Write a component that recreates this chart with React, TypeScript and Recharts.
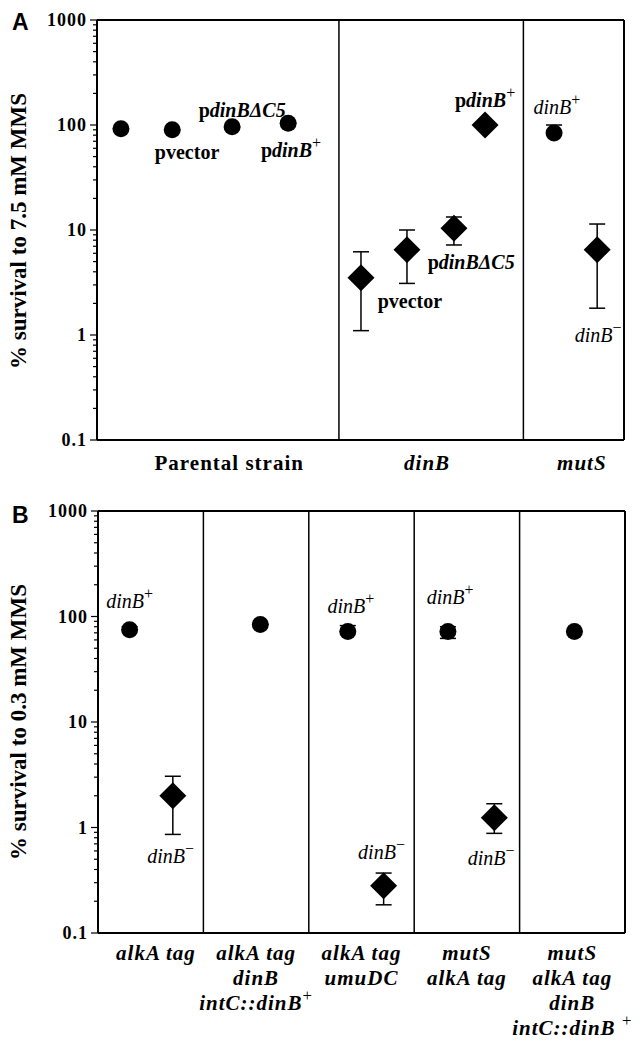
import React from 'react';
import { ScatterChart, Scatter, XAxis, YAxis, ErrorBar, ReferenceLine } from 'recharts';

const SERIF = '"Liberation Serif", "Times New Roman", serif';
const SANS = '"Liberation Sans", Arial, sans-serif';

// log axis ticks
const majorTicks = [0.1, 1, 10, 100, 1000];
const minorSteps = [2, 3, 4, 5, 6, 7, 8, 9];
const yTicks = [
  ...majorTicks,
  ...majorTicks.slice(0, 4).flatMap((d) => minorSteps.map((m) => +(d * m).toPrecision(3))),
];

// ---- panel A: 7.5 mM MMS ----
const aColumns = ['Parental strain', 'dinB', 'mutS'];
const aColumnItalic = [false, true, true];
const aColumnPos = [2.76, 6.89, 10.12];
const aDividers = [5.05, 8.9];
const aCircles = [
  { x: 0.5, y: 92, lo: 92, hi: 92 },
  { x: 1.57, y: 90, lo: 90, hi: 90 },
  { x: 2.82, y: 96, lo: 96, hi: 96 },
  { x: 3.99, y: 104, lo: 104, hi: 104 },
  { x: 9.54, y: 84, lo: 84, hi: 100 },
];
const aDiamonds = [
  { x: 5.51, y: 3.5, lo: 1.1, hi: 6.2 },
  { x: 6.47, y: 6.5, lo: 3.1, hi: 10 },
  { x: 7.45, y: 10.4, lo: 7.2, hi: 13.3 },
  { x: 8.1, y: 100, lo: 100, hi: 100 },
  { x: 10.44, y: 6.5, lo: 1.8, hi: 11.4 },
];
const aNotes = [
  { x: 1.88, y: 55, label: 'pvector' },
  { x: 3.03, y: 139, label: 'pdinBΔC5' },
  { x: 4.05, y: 58, label: 'pdinB+' },
  { x: 8.1, y: 173, label: 'pdinB+' },
  { x: 9.6, y: 148, label: 'dinB+' },
  { x: 6.53, y: 2.1, label: 'pvector' },
  { x: 7.81, y: 4.96, label: 'pdinBΔC5' },
  { x: 10.46, y: 1.0, label: 'dinB-' },
];

// ---- panel B: 0.3 mM MMS ----
const bColumns = [
  ['alkA tag'],
  ['alkA tag', 'dinB', 'intC::dinB+'],
  ['alkA tag', 'umuDC'],
  ['mutS', 'alkA tag'],
  ['mutS', 'alkA tag', 'dinB', 'intC::dinB +'],
];
const bColumnPos = [0.55, 1.5, 2.5, 3.5, 4.5];
const bDividers = [1, 2, 3, 4];
const bCircles = [
  { x: 0.3, y: 75, lo: 75, hi: 80 },
  { x: 1.54, y: 84, lo: 84, hi: 84 },
  { x: 2.37, y: 72, lo: 72, hi: 82 },
  { x: 3.32, y: 72, lo: 62, hi: 80 },
  { x: 4.52, y: 72, lo: 72, hi: 72 },
];
const bDiamonds = [
  { x: 0.71, y: 2.0, lo: 0.86, hi: 3.06 },
  { x: 2.71, y: 0.28, lo: 0.185, hi: 0.37 },
  { x: 3.76, y: 1.24, lo: 0.88, hi: 1.68 },
];
const bNotes = [
  { x: 0.3, y: 140, label: 'dinB+' },
  { x: 0.69, y: 0.54, label: 'dinB-' },
  { x: 2.4, y: 125, label: 'dinB+' },
  { x: 3.34, y: 152, label: 'dinB+' },
  { x: 2.69, y: 0.58, label: 'dinB-' },
  { x: 3.73, y: 0.51, label: 'dinB-' },
];

const withErr = (pts: { x: number; y: number; lo: number; hi: number }[]) =>
  pts.map((p) => ({ ...p, err: [p.y - p.lo, p.hi - p.y] }));

function splitLabel(label: string, allowPrefix: boolean) {
  let pre = '';
  let body = label;
  let sup = '';
  if (label === 'pvector') return { pre: label, body: '', sup: '' };
  if (allowPrefix && body.startsWith('pd')) {
    pre = 'p';
    body = body.slice(1);
  }
  const last = body[body.length - 1];
  if (last === '+' || last === '-') {
    sup = last === '+' ? '+' : '−';
    body = body.slice(0, -1);
  }
  return { pre, body, sup };
}

function RichText({ x, y, label, size, bold, prefix, spacing = 0 }: any) {
  const { pre, body, sup } = splitLabel(label, prefix);
  return (
    <text x={x} y={y} textAnchor="middle" dominantBaseline="central" fontFamily={SERIF} fontSize={size}
      fill="#000" letterSpacing={spacing}>
      {pre && <tspan fontWeight="bold">{pre}</tspan>}
      {body && <tspan fontStyle="italic" fontWeight={bold || pre ? 'bold' : 'normal'}>{body}</tspan>}
      {sup && <tspan dy={-size * 0.4} fontSize={size * 0.8} fontWeight="normal">{sup}</tspan>}
    </text>
  );
}

const Dot = (p: any) => <circle cx={p.cx} cy={p.cy} r={8.5} fill="#000" />;
const Diamond = (p: any) => {
  const r = 13.5;
  return (
    <polygon
      points={`${p.cx},${p.cy - r} ${p.cx + r},${p.cy} ${p.cx},${p.cy + r} ${p.cx - r},${p.cy}`}
      fill="#000"
    />
  );
};
const Note = (p: any) => <RichText x={p.cx} y={p.cy} label={p.payload.label} size={20} prefix />;

const YTick = (p: any) => {
  const v = p.payload.value;
  const major = majorTicks.includes(v);
  return (
    <g>
      <line x1={p.x - (major ? 7 : 4)} x2={p.x} y1={p.y} y2={p.y} stroke="#000" strokeWidth={1.2} />
      {major && (
        <text x={p.x - 10} y={p.y} textAnchor="end" dominantBaseline="central" fontFamily={SERIF}
          fontWeight="bold" fontSize={18} letterSpacing={1} fill="#000">
          {v}
        </text>
      )}
    </g>
  );
};

const ATick = (p: any) => {
  const i = p.index;
  return (
    <text x={p.x} y={p.y + 23} textAnchor="middle" dominantBaseline="central" fontFamily={SERIF}
      fontWeight="bold" fontStyle={aColumnItalic[i] ? 'italic' : 'normal'} fontSize={21}
      letterSpacing={1} fill="#000">
      {aColumns[i]}
    </text>
  );
};

const BTick = (p: any) => {
  const lines = bColumns[p.index] || [];
  return (
    <g>
      {lines.map((l, k) => (
        <RichText key={k} x={p.x} y={p.y + 20 + k * 25} label={l} size={21} bold prefix={false} spacing={1} />
      ))}
    </g>
  );
};

function Panel({ xMax, colPos, dividers, circles, diamonds, notes, tick, height, xHeight }: any) {
  return (
    <ScatterChart width={643} height={height} margin={{ top: 20, right: 19, left: 0, bottom: 0 }}>
      <XAxis type="number" dataKey="x" domain={[0, xMax]} ticks={colPos} interval={0} tickLine={false}
        tickSize={0} tickMargin={0} tick={tick} height={xHeight} axisLine={{ stroke: '#000', strokeWidth: 2 }} />
      <YAxis type="number" dataKey="y" scale="log" domain={[0.1, 1000]} ticks={yTicks} interval={0}
        tickLine={false} tickSize={0} tickMargin={0} tick={<YTick />} width={97}
        axisLine={{ stroke: '#000', strokeWidth: 2 }} allowDataOverflow />
      <ReferenceLine y={1000} stroke="#000" strokeWidth={2} />
      <ReferenceLine x={xMax} stroke="#000" strokeWidth={2} />
      {dividers.map((d: number) => (
        <ReferenceLine key={d} x={d} stroke="#000" strokeWidth={1.5} />
      ))}
      <Scatter data={withErr(circles)} shape={Dot} isAnimationActive={false}>
        <ErrorBar dataKey="err" direction="y" width={8} stroke="#000" strokeWidth={1.5} />
      </Scatter>
      <Scatter data={withErr(diamonds)} shape={Diamond} isAnimationActive={false}>
        <ErrorBar dataKey="err" direction="y" width={8} stroke="#000" strokeWidth={1.5} />
      </Scatter>
      <Scatter data={notes} shape={Note} isAnimationActive={false} />
    </ScatterChart>
  );
}

const yLabelStyle = (cy: number): React.CSSProperties => ({
  position: 'absolute',
  left: 19 - 200,
  top: cy - 14,
  width: 400,
  height: 28,
  lineHeight: '28px',
  textAlign: 'center',
  transform: 'rotate(-90deg)',
  fontFamily: SERIF,
  fontWeight: 'bold',
  fontSize: 23,
  whiteSpace: 'nowrap',
});

const letterStyle = (top: number): React.CSSProperties => ({
  position: 'absolute',
  left: 12,
  top,
  fontFamily: SANS,
  fontWeight: 'bold',
  fontSize: 23,
  lineHeight: '23px',
});

export default function App() {
  return (
    <div style={{ position: 'relative', width: 643, height: 1045, background: '#fff', overflow: 'hidden' }}>
      <style>{'body{margin:0}'}</style>
      <div style={{ position: 'absolute', left: 0, top: 0 }}>
        <Panel xMax={11} colPos={aColumnPos} dividers={aDividers} circles={aCircles} diamonds={aDiamonds}
          notes={aNotes} tick={<ATick />} height={490} xHeight={50} />
      </div>
      <div style={{ position: 'absolute', left: 1, top: 491 }}>
        <Panel xMax={5} colPos={bColumnPos} dividers={bDividers} circles={bCircles} diamonds={bDiamonds}
          notes={bNotes} tick={<BTick />} height={554} xHeight={112} />
      </div>
      <div style={yLabelStyle(231)}>% survival to 7.5 mM MMS</div>
      <div style={yLabelStyle(722)}>% survival to 0.3 mM MMS</div>
      <div style={letterStyle(10.5)}>A</div>
      <div style={letterStyle(503.5)}>B</div>
    </div>
  );
}
